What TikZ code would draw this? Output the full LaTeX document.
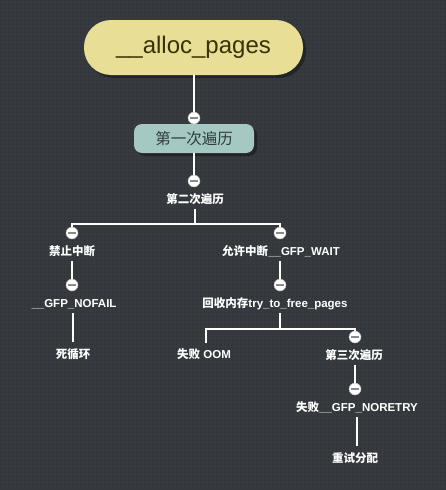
\documentclass[tikz,border=0pt]{standalone}
\usepackage{fontspec}
\setmainfont{Liberation Sans}
\newfontfamily\cjk{Noto Sans CJK SC}
\usetikzlibrary{patterns.meta,shadows}
\definecolor{bg}{HTML}{363A3E}
\definecolor{bgdot}{HTML}{2C3034}
\definecolor{rootfill}{HTML}{E8DE96}
\definecolor{roottext}{HTML}{3B3000}
\definecolor{firstfill}{HTML}{A6C8C3}
\definecolor{firsttext}{HTML}{2E3C3C}
\definecolor{minusbar}{HTML}{8A8A8A}
\tikzdeclarepattern{name=bgdots, type=uncolored,
  bounding box={(0pt,0pt) and (4pt,4pt)}, tile size={(4pt,4pt)},
  code={\fill (2pt,2pt) circle (0.7pt);}}
\begin{document}
\begin{tikzpicture}[x=1pt,y=-1pt,
  conn/.style={draw=white, line width=2pt},
  minus/.style={circle, fill=white, draw=minusbar!60, line width=0.4pt, minimum size=12pt, inner sep=0pt,
    path picture={\draw[minusbar, line width=1.6pt] ([xshift=-4pt]path picture bounding box.center) -- ([xshift=4pt]path picture bounding box.center);}},
  lbl/.style={text=white, font=\bfseries\fontsize{11.5}{13}\selectfont, inner sep=3pt, text height=9pt, text depth=2pt},
  shad/.style={drop shadow={shadow xshift=3pt, shadow yshift=-3pt, fill=black, opacity=0.35}}
]
\fill[bg] (0,0) rectangle (446,490);
\fill[pattern=bgdots, pattern color=bgdot] (0,0) rectangle (446,490);
\useasboundingbox (0,0) rectangle (446,490);

% root and first pass
\node[shad, fill=rootfill, rounded corners=27pt, minimum width=219pt, minimum height=55pt, text=roottext,
  font=\fontsize{24}{28}\selectfont] (root) at (193.5,47.5) {\_\_alloc\_pages};
\node[minus] (c1) at (194,118) {};
\node[shad, fill=firstfill, rounded corners=8pt, minimum width=120pt, minimum height=29pt, text=firsttext,
  font=\cjk\fontsize{15.5}{18}\selectfont] (first) at (194,138.5) {第一次遍历};
\node[minus] (c2) at (194,181) {};

% labels
\node[lbl] (l2) at (195,200) {\cjk 第二次遍历};
\node[minus] (c3) at (72,233) {};
\node[minus] (c4) at (280,233) {};
\node[lbl] (l3) at (72,252) {\cjk 禁止中断};
\node[lbl] (l4) at (281,252) {{\cjk 允许中断}\_\_GFP\_WAIT};
\node[minus] (c5) at (72,285) {};
\node[minus] (c6) at (280,285) {};
\node[lbl] (l5) at (74,304) {\_\_GFP\_NOFAIL};
\node[lbl] (l6) at (275,304) {{\cjk 回收内存}try\_to\_free\_pages};
\node[lbl] (l7) at (73,355) {\cjk 死循环};
\node[lbl] (l8) at (204,355) {{\cjk 失败} OOM};
\node[minus] (c7) at (355,337) {};
\node[lbl] (l9) at (354,356) {\cjk 第三次遍历};
\node[minus] (c8) at (355,389) {};
\node[lbl] (l10) at (357,408) {{\cjk 失败}\_\_GFP\_NORETRY};
\node[lbl] (l11) at (355,459) {\cjk 重试分配};

\coordinate (j1) at (195,224);
\coordinate (j2) at (280,329);
\coordinate (t8) at (206,343);

% connectors
\draw[conn] (root.south -| c1) -- (c1);
\draw[conn] (first.south -| c2) -- (c2);
\draw[conn] (l2.south) -- (j1);
\draw[conn] (j1) -| (c3);
\draw[conn] (j1) -| (c4);
\draw[conn] (l3.south) -- (c5);
\draw[conn] (l4.south -| c6) -- (c6);
\draw[conn] (l5.south -| l7) -- ([yshift=4pt]l7.north);
\draw[conn] (l6.south -| j2) -- (j2);
\draw[conn] (j2) -| (t8);
\draw[conn] (j2) -| (c7);
\draw[conn] (l9.south -| c8) -- (c8);
\draw[conn] (l10.south) -- ([yshift=4pt]l11.north -| l10.south);
\end{tikzpicture}
\end{document}
